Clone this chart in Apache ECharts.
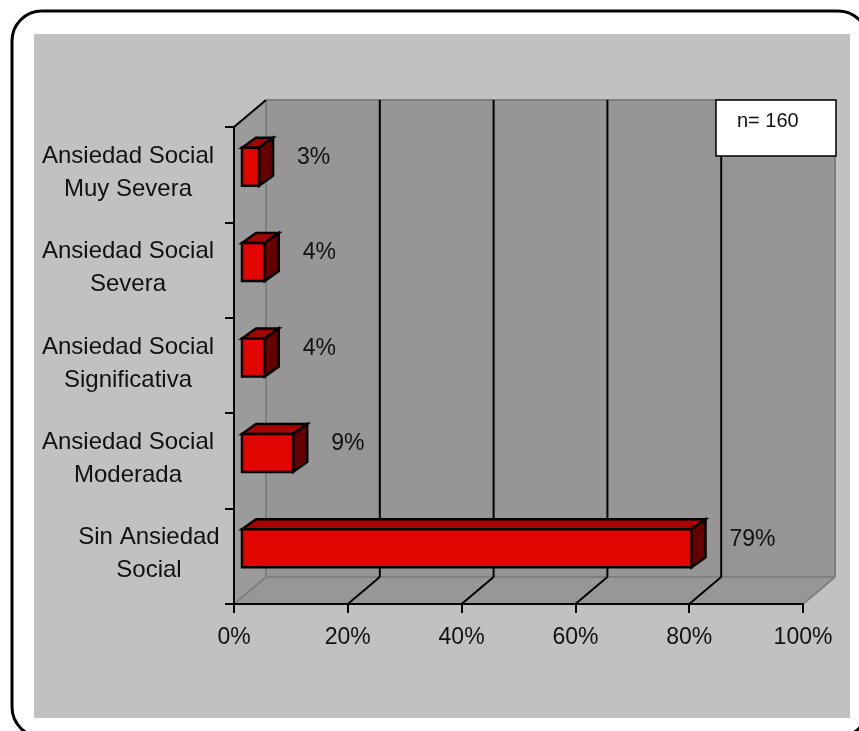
<!DOCTYPE html>
<html>
<head>
<meta charset="utf-8">
<style>html,body{margin:0;padding:0;background:#fff}#chart{width:859px;height:731px}</style>
<script src="https://cdn.jsdelivr.net/npm/echarts@6/dist/echarts.min.js"></script>
</head>
<body>
<div id="chart"></div>
<script>
// Severity categories, listed from the bottom of the axis upwards
const categories = [
  'Sin Ansiedad\nSocial',
  'Ansiedad Social\nModerada',
  'Ansiedad Social\nSignificativa',
  'Ansiedad Social\nSevera',
  'Ansiedad Social\nMuy Severa'
];
const shares = [79, 9, 4, 4, 3];
const xTicks = [0, 20, 40, 60, 80, 100];
const sampleNote = 'n= 160';

// Depth of the oblique projection
const wallDx = 32, wallDy = -27;
const barShiftX = 8, barShiftY = -8, barHeight = 38, barDx = 14, barDy = -10;
const font = '"Liberation Sans", Arial, sans-serif';
const ink = '#111111';

const chart = echarts.init(document.getElementById('chart'));

function poly(points, fill, stroke, lineWidth) {
  return {
    type: 'polygon',
    shape: { points },
    style: { fill, stroke: stroke || fill, lineWidth: lineWidth || 1, lineJoin: 'miter' }
  };
}
function seg(a, b, stroke, lineWidth) {
  return {
    type: 'line',
    shape: { x1: a[0], y1: a[1], x2: b[0], y2: b[1] },
    style: { stroke, lineWidth }
  };
}

// Pixel corners of the plot area, taken from the axes
function plotCorners(api) {
  const band = api.size([0, 1])[1];
  const bottom = api.coord([0, 0])[1] + band / 2;
  const top = api.coord([0, categories.length - 1])[1] - band / 2;
  const left = api.coord([0, 0])[0];
  const right = api.coord([100, 0])[0];
  return { bottom, top, left, right };
}

// Back wall, side wall and floor of the plot box
function renderWalls(params, api) {
  const c = plotCorners(api);
  const o = [c.left, c.bottom], r = [c.right, c.bottom], t = [c.left, c.top];
  const back = p => [p[0] + wallDx, p[1] + wallDy];
  const edge = '#7f7f7f', wall = '#969696';
  const bo = back(o), br = back(r), bt = back(t);
  const btr = [br[0], bt[1]];
  return {
    type: 'group',
    children: [
      poly([t, bt, bo, o], '#9b9b9b'),
      poly([bt, btr, br, bo], wall),
      poly([o, r, br, bo], '#979797'),
      seg(bt, btr, edge, 2),
      seg(bt, bo, edge, 2),
      seg(bo, br, edge, 2),
      seg(btr, br, edge, 2),
      seg(o, bo, edge, 2),
      seg(r, br, edge, 2),
      seg(t, bt, '#000', 2)
    ]
  };
}

// Grid line on the back wall, continued across the floor to its tick
function renderGrid(params, api) {
  const c = plotCorners(api);
  const x = api.coord([api.value(0), 0])[0];
  const f = [x, c.bottom];
  const b = [x + wallDx, c.bottom + wallDy];
  return {
    type: 'group',
    children: [seg(f, b, '#000', 2), seg(b, [b[0], c.top + wallDy], '#000', 2)]
  };
}

// Box-shaped bar: front, top and right faces plus its percentage
function renderBar(params, api) {
  const v = api.value(0), i = api.value(1);
  const start = api.coord([0, i]);
  const end = api.coord([v, i]);
  const x0 = start[0] + barShiftX, x1 = end[0] + barShiftX;
  const yc = start[1] + barShiftY;
  const y0 = yc - barHeight / 2, y1 = yc + barHeight / 2;
  return {
    type: 'group',
    children: [
      poly([[x0, y0], [x0 + barDx, y0 + barDy], [x1 + barDx, y0 + barDy], [x1, y0]], '#a60404', '#000', 2.5),
      poly([[x1, y0], [x1 + barDx, y0 + barDy], [x1 + barDx, y1 + barDy], [x1, y1]], '#660000', '#000', 2.5),
      poly([[x0, y0], [x1, y0], [x1, y1], [x0, y1]], '#e10500', '#000', 2.5),
      {
        type: 'text',
        style: {
          x: x1 + 38, y: yc - 9, text: v + '%',
          font: '23px ' + font, fill: ink, textAlign: 'left', textVerticalAlign: 'middle'
        }
      }
    ]
  };
}

chart.setOption({
  animation: false,
  backgroundColor: '#ffffff',
  graphic: [
    {
      type: 'rect', z: -20, silent: true,
      shape: { x: 12, y: 11, width: 856, height: 726, r: 30 },
      style: { fill: '#ffffff', stroke: '#000000', lineWidth: 3 }
    },
    {
      type: 'rect', z: -19, silent: true,
      shape: { x: 34, y: 34, width: 816, height: 684 },
      style: { fill: '#c1c1c1' }
    },
    {
      type: 'rect', z: 100, silent: true,
      shape: { x: 716, y: 100, width: 120, height: 56 },
      style: { fill: '#ffffff', stroke: '#000000', lineWidth: 1.5 }
    },
    {
      type: 'text', z: 101, silent: true, x: 737, y: 121,
      style: { text: sampleNote, font: '20px ' + font, fill: ink, textVerticalAlign: 'middle' }
    }
  ],
  grid: { left: 234, top: 127, width: 569, height: 477, containLabel: false },
  xAxis: {
    type: 'value', min: 0, max: 100, interval: 20, z: 5,
    axisLine: { show: true, lineStyle: { color: '#000', width: 2 } },
    axisTick: { show: true, length: 9, lineStyle: { color: '#000', width: 2 } },
    axisLabel: {
      margin: 22, fontFamily: font, fontSize: 23, color: ink,
      formatter: v => v + '%',
      customValues: xTicks,
      hideOverlap: false
    },
    splitLine: { show: false }
  },
  yAxis: {
    type: 'category', data: categories, z: 5,
    axisLine: { show: true, onZero: false, lineStyle: { color: '#000', width: 2 } },
    axisTick: { show: true, length: 9, alignWithLabel: false, lineStyle: { color: '#000', width: 2 } },
    splitLine: { show: false },
    axisLabel: {
      interval: 0, margin: 106,
      align: 'center', fontFamily: font, fontSize: 24, color: ink, lineHeight: 33,
      padding: [0, 0, 4, 0],
      // The bottom label sits further right than the others
      formatter: (name, idx) => {
        if (idx !== 0) return name;
        return name.split('\n').map(line => '{shifted|' + line + '}').join('\n');
      },
      rich: {
        shifted: { fontFamily: font, fontSize: 24, lineHeight: 33, color: ink, padding: [0, 0, 0, 42] }
      }
    }
  },
  series: [
    { type: 'custom', z: 1, silent: true, renderItem: renderWalls, data: [[0, 0]], encode: { x: 0, y: 1 } },
    {
      type: 'custom', z: 2, silent: true, renderItem: renderGrid,
      data: xTicks.slice(1, -1).map(t => [t, 0]), encode: { x: 0, y: 1 }
    },
    {
      type: 'custom', z: 6, silent: true, renderItem: renderBar,
      data: shares.map((v, i) => [v, i]), encode: { x: 0, y: 1 }
    }
  ]
});
</script>
</body>
</html>
